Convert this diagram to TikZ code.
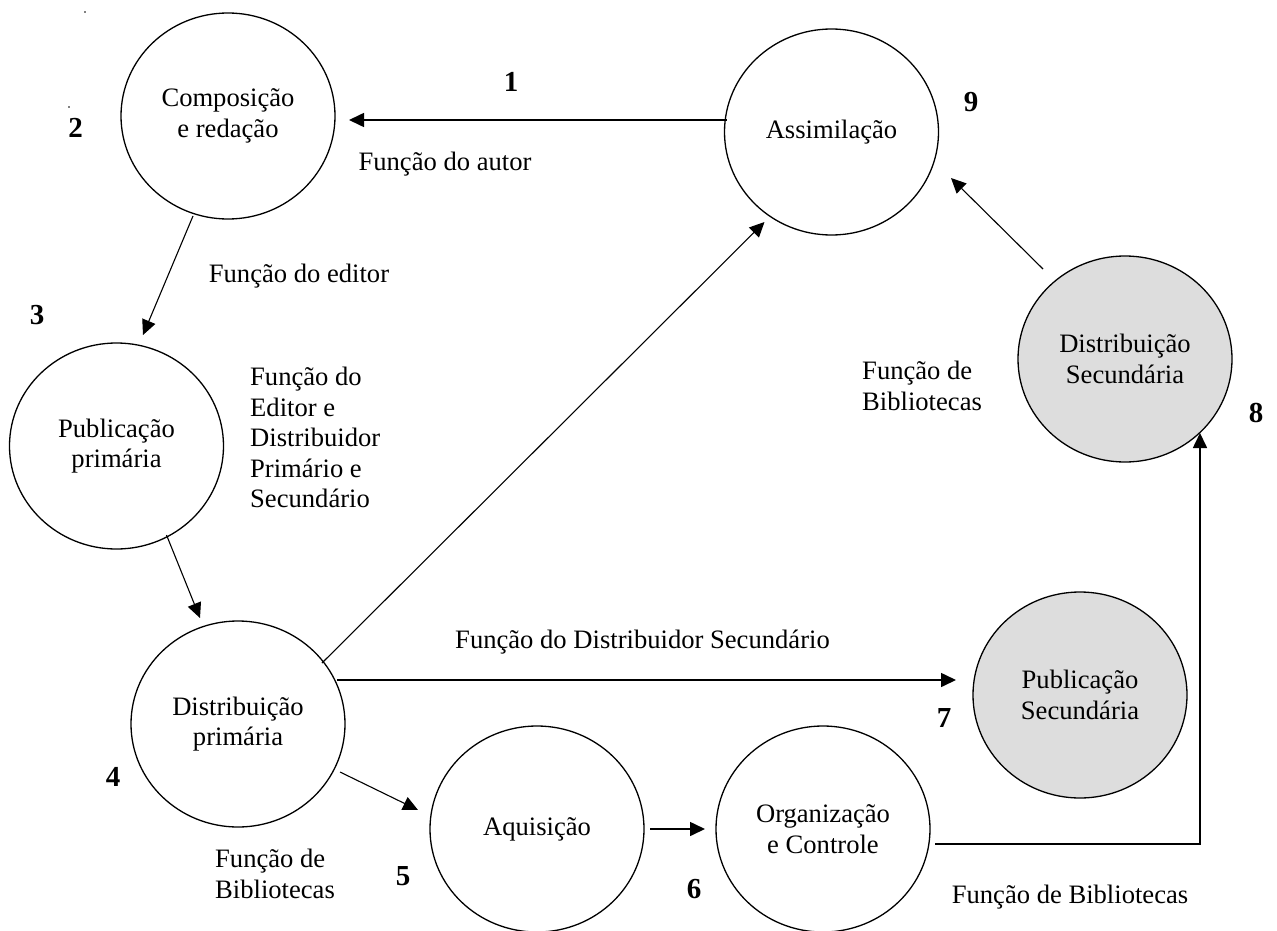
\documentclass[tikz,border=0pt]{standalone}
\usepackage{fontspec}
\setmainfont{Liberation Serif}
\usetikzlibrary{shapes.geometric,arrows.meta,calc}
\definecolor{graybg}{RGB}{221,221,221}
\begin{document}
\begin{tikzpicture}[x=1pt,y=-1pt,
  proc/.style={ellipse,draw,line width=1.3pt,minimum width=214pt,minimum height=206pt,inner sep=0pt,align=center,font=\fontsize{26.6pt}{30.5pt}\selectfont},
  shaded/.style={proc,fill=graybg},
  lbl/.style={inner sep=0pt,align=center,font=\fontsize{26.6pt}{30.5pt}\selectfont},
  lbll/.style={inner sep=0pt,align=left,anchor=west,font=\fontsize{26.6pt}{30.5pt}\selectfont},
  num/.style={inner sep=0pt,font=\fontsize{29pt}{30pt}\selectfont\bfseries},
  arr/.style={line width=1.1pt,-{Triangle[length=15pt,width=14pt]}},
  harr/.style={line width=1.6pt,-{Triangle[length=15pt,width=14pt]}},
  plain/.style={line width=1.6pt}]
\useasboundingbox (0,0) rectangle (1277,931);

% circles
\node[proc]   (comp)    at (228,116)  {Composição\\e redação};
\node[proc]   (assim)   at (831.5,132) {Assimilação};
\node[proc]   (pubp)    at (116.5,446) {Publicação\\primária};
\node[shaded] (distsec) at (1125,359) {Distribuição\\Secundária};
\node[proc]   (distp)   at (238,724)  {Distribuição\\primária};
\node[shaded] (pubsec)  at (1080,695) {Publicação\\Secundária};
\node[proc]   (aquis)   at (537,829)  {Aquisição};
\node[proc]   (org)     at (823,829)  {Organização\\e Controle};

% numbers
\node[num] (n1) at (511,82)  {1};
\node[num] (n2) at (75.5,128) {2};
\node[num] (n3) at (37,315)  {3};
\node[num] (n4) at (113,777) {4};
\node[num] (n5) at (403,876) {5};
\node[num] (n6) at (694,889) {6};
\node[num] (n7) at (944,718) {7};
\node[num] (n8) at (1256,413) {8};
\node[num] (n9) at (971,102) {9};

% labels
\node[lbl]  (lautor)  at (445,164) {Função do autor};
\node[lbl]  (leditor) at (299,276) {Função do editor};
\node[lbll] (ledist)  at (250,437.5) {Função do\\Editor e\\Distribuidor\\Primário e\\Secundário};
\node[lbll] (lbib1)   at (862,386) {Função de\\Bibliotecas};
\node[lbl]  (ldsec)   at (642.5,642) {Função do Distribuidor Secundário};
\node[lbll] (lbib2)   at (215,874) {Função de\\Bibliotecas};
\node[lbl]  (lbib3)   at (1070,897) {Função de Bibliotecas};

% tiny marks
\fill (85,12) circle (0.9);
\fill (69,107) circle (0.9);

% connectors
\draw[harr] ($(assim.center)+(-105,-12)$) -- ($(comp.center)+(121,4)$);
\draw[arr]  ($(comp.center)+(-35,100)$) -- ($(pubp.center)+(26.5,-111)$);
\draw[arr]  ($(pubp.center)+(50,89)$) -- ($(distp.center)+(-38,-106)$);
\draw[arr]  ($(distp.center)+(84,-61)$) -- ($(assim.center)+(-67,90)$);
\draw[harr] ($(distp.center)+(99,-44)$) -- ($(pubsec.center)+(-124,-15)$);
\draw[arr]  ($(distp.center)+(102,48)$) -- ($(aquis.center)+(-119,-19)$);
\draw[harr] ($(aquis.center)+(113,0)$) -- ($(org.center)+(-118,0)$);
\draw[harr] ($(org.center)+(112,15)$) -| ($(distsec.center)+(75,74)$);
\draw[arr]  ($(distsec.center)+(-82,-90)$) -- ($(assim.center)+(119.5,46)$);
\end{tikzpicture}
\end{document}
